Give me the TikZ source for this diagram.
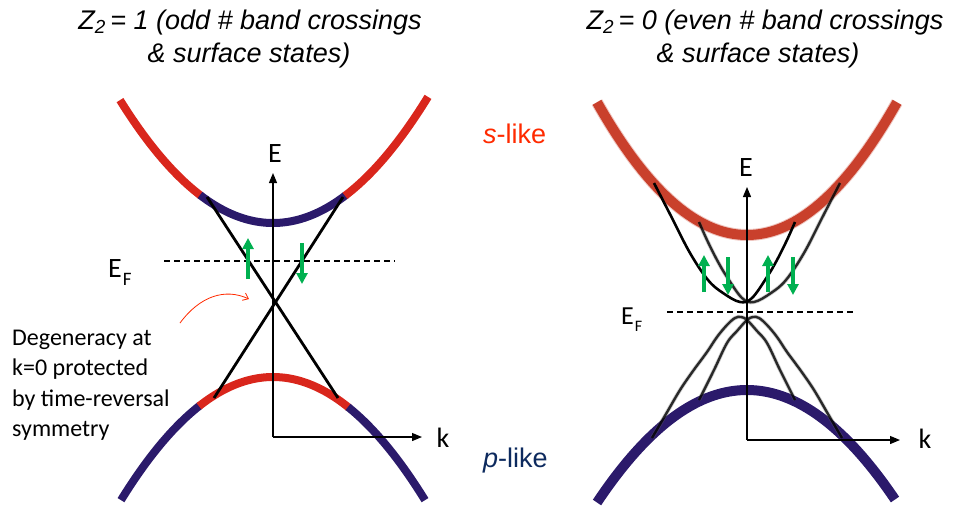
\documentclass[tikz,border=0pt]{standalone}
\usepackage{fontspec}
\setmainfont{Liberation Sans}
\newfontfamily\calib{Carlito}
\usetikzlibrary{arrows.meta}
\definecolor{bandred}{HTML}{D9261C}
\definecolor{bandnavy}{HTML}{2B1A6B}
\definecolor{bandredb}{HTML}{C9402C}
\definecolor{spingreen}{HTML}{00B050}
\definecolor{slikered}{HTML}{FF2A00}
\definecolor{plikenavy}{HTML}{0D2A5E}
\begin{document}
\begin{tikzpicture}[x=1pt,y=-1pt,
  bandline/.style={line width=8pt},
  axisline/.style={line width=1.2pt,-{Triangle[length=10pt,width=8pt]}},
  fermi/.style={line width=1.1pt,dash pattern=on 6pt off 4pt},
  spin/.style={line width=4pt,spingreen,-{Triangle[length=11pt,width=11pt]}},
  cone/.style={line width=2.8pt},
  ghost/.style={draw=black,line width=2.4pt,opacity=0.8,
    preaction={draw=black!60,line width=4pt,opacity=0.3}},
  lab/.style={font=\calib\fontsize{28}{30}\selectfont,inner sep=0},
  desc/.style={font=\calib\fontsize{24}{28}\selectfont,inner sep=0,anchor=base west},
  ttl/.style={font=\itshape\fontsize{27}{32}\selectfont,inner sep=0,anchor=base}]
\useasboundingbox (0,0) rectangle (956,507);

% ---------- titles ----------
\node[ttl] (t1a) at (250,29) {Z\textsubscript{2}\,= 1 (odd \# band crossings};
\node[ttl] (t1b) at (249,62) {\& surface states)};
\node[ttl] (t2a) at (765,29) {Z\textsubscript{2}\,= 0 (even \# band crossings};
\node[ttl] (t2b) at (758,62) {\& surface states)};

% ---------- left panel ----------
% conduction band
\draw[bandline,bandred] plot[domain=-153:-72,samples=30] ({273+\x},{223-0.525*(\x/10)*(\x/10)});
\draw[bandline,bandnavy] plot[domain=-73:73,samples=50] ({273+\x},{223-0.525*(\x/10)*(\x/10)});
\draw[bandline,bandred] plot[domain=72:155,samples=30] ({273+\x},{223-0.525*(\x/10)*(\x/10)});
% valence band
\draw[bandline,bandnavy] plot[domain=-152:-73,samples=30] ({273+\x},{377+0.533*(\x/10)*(\x/10)});
\draw[bandline,bandred] plot[domain=-74:76,samples=50] ({273+\x},{377+0.533*(\x/10)*(\x/10)});
\draw[bandline,bandnavy] plot[domain=75:152,samples=30] ({273+\x},{377+0.533*(\x/10)*(\x/10)});
% Dirac cone surface states
\coordinate (c1a) at (207,197);
\coordinate (c1b) at (338,398);
\coordinate (c2a) at (343,197);
\coordinate (c2b) at (214,398);
\draw[cone] (c1a) -- (c1b);
\draw[cone] (c2a) -- (c2b);
% axes
\coordinate (O1) at (273,437);
\coordinate (E1) at (273,173);
\coordinate (K1) at (422,437);
\draw[axisline] (O1) -- (E1);
\draw[axisline] (O1) -- (K1);
\node[lab,anchor=base] (e1) at (275,162) {E};
\node[lab,anchor=base] (k1) at (443,447) {k};
% Fermi level
\coordinate (f1a) at (164,261);
\coordinate (f1b) at (395,261);
\draw[fermi] (f1a) -- (f1b);
\node[lab,anchor=base west] (ef1) at (108,277) {E\kern1pt\raisebox{-8pt}{\fontsize{19}{19}\selectfont F}};
% spins
\coordinate (s1a) at (248,279); \coordinate (s1b) at (248,238);
\coordinate (s2a) at (302,243); \coordinate (s2b) at (302,284);
\draw[spin] (s1a) -- (s1b);
\draw[spin] (s2a) -- (s2b);
% annotation
\coordinate (r1) at (180,323);
\coordinate (r2) at (249,299);
\draw[slikered,line width=0.8pt,-{Straight Barb[length=5pt,width=8pt]}] (r1) .. controls (200,296) and (225,288) .. (r2);
\node[desc] (d1) at (12,345) {Degeneracy at};
\node[desc] (d2) at (12,375.5) {k=0 protected};
\node[desc] (d3) at (12,406) {by time-reversal};
\node[desc] (d4) at (12,436) {symmetry};

% ---------- middle labels ----------
\node[font=\fontsize{27}{30}\selectfont,text=slikered,anchor=base west,inner sep=0] (sl) at (483,143) {\textit{s}-like};
\node[font=\fontsize{27}{30}\selectfont,text=plikenavy,anchor=base west,inner sep=0] (pl) at (483,467) {\textit{p}-like};

% ---------- right panel ----------
\draw[line width=12pt,bandredb,opacity=0.3] plot[domain=-150:150,samples=80] ({747+\x},{235-0.59*(\x/10)*(\x/10)});
\draw[line width=10pt,bandredb] plot[domain=-150:150,samples=80] ({747+\x},{235-0.59*(\x/10)*(\x/10)});
\draw[line width=10pt,bandnavy] plot[domain=-150:148,samples=80] ({747+\x},{390+0.5*(\x/10)*(\x/10)});
% surface states (conduction side)
\draw[ghost] plot[smooth,tension=0.6] coordinates {(840,183) (822,218) (804,253) (786,280) (771,293) (754,302) (742,298) (727,277) (717,260) (707,240) (699,222)};
\draw[cone,line width=2.6pt] plot[smooth,tension=0.6] coordinates {(654,183) (672,218) (690,253) (708,280) (723,293) (740,302) (752,298) (767,277) (777,260) (787,240) (795,222)};
% surface states (valence side)
\draw[ghost] plot[smooth,tension=0.6] coordinates {(652,438) (666,414) (680,390) (693,371) (707,352) (717,337) (727,325) (735,318) (741,317) (747,320) (757,331) (767,343) (780,370) (795,400)};
\draw[ghost] plot[smooth,tension=0.6] coordinates {(842,438) (828,414) (814,390) (801,371) (787,352) (777,337) (767,325) (759,318) (753,317) (747,320) (737,331) (727,343) (714,370) (699,400)};
% axes
\coordinate (O2) at (747,440);
\coordinate (E2) at (747,187);
\coordinate (K2) at (900,440);
\draw[axisline] (O2) -- (E2);
\draw[axisline] (O2) -- (K2);
\node[lab,anchor=base] (e2) at (746,176) {E};
\node[lab,anchor=base] (k2) at (925,448) {k};
% Fermi level
\coordinate (f2a) at (667,312);
\coordinate (f2b) at (855,312);
\draw[fermi] (f2a) -- (f2b);
\node[font=\calib\fontsize{26}{28}\selectfont,inner sep=0,anchor=base west] (ef2) at (621,324) {E\kern1pt\raisebox{-7pt}{\fontsize{16}{16}\selectfont F}};
% spins
\coordinate (s3a) at (704,292); \coordinate (s3b) at (704,255);
\coordinate (s4a) at (728,257); \coordinate (s4b) at (728,295);
\coordinate (s5a) at (768,292); \coordinate (s5b) at (768,255);
\coordinate (s6a) at (793,257); \coordinate (s6b) at (793,295);
\draw[spin] (s3a) -- (s3b);
\draw[spin] (s4a) -- (s4b);
\draw[spin] (s5a) -- (s5b);
\draw[spin] (s6a) -- (s6b);
\end{tikzpicture}
\end{document}
